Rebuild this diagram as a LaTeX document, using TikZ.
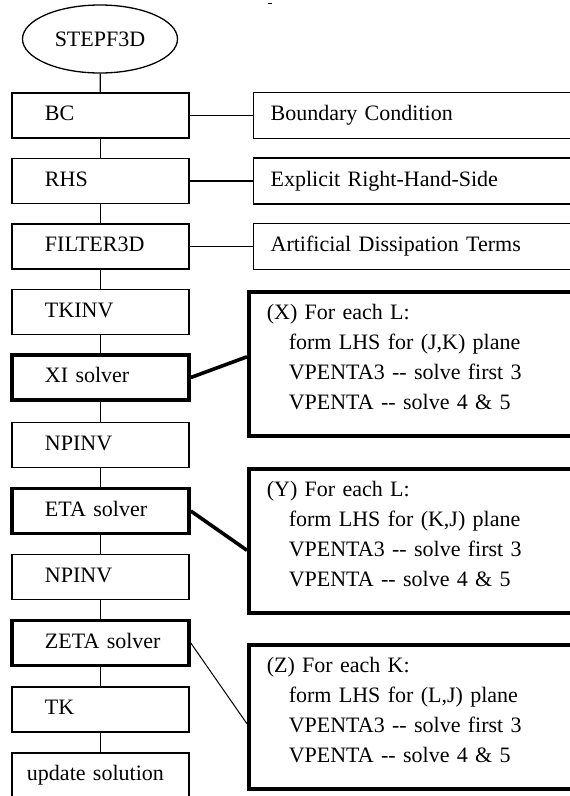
\documentclass[tikz,border=0pt]{standalone}
\usepackage{fontspec}
\setmainfont{Liberation Serif}
\usetikzlibrary{shapes.geometric}
\newcommand{\dd}{-{}-}
\newcommand{\ind}{\hspace*{22pt}}
\begin{document}
\begin{tikzpicture}[x=1pt,y=-1pt,
  thinline/.style={line width=1.3pt},
  thickline/.style={line width=3.6pt},
  stepbox/.style={draw, thinline, rectangle, minimum width=177pt, minimum height=45pt,
    inner xsep=33pt, text width=111pt, align=left, text height=15pt, text depth=5pt,
    font=\fontsize{22}{26}\selectfont},
  solverbox/.style={stepbox, thickline},
  notebox/.style={draw, thinline, rectangle, anchor=west, minimum width=347pt, minimum height=46pt,
    inner xsep=17pt, text width=313pt, align=left, text height=15pt, text depth=5pt,
    font=\fontsize{22}{26}\selectfont},
  loopbox/.style={draw, thickline, rectangle, anchor=north west, minimum width=353pt, minimum height=144pt,
    inner xsep=18pt, text width=317pt, align=left,
    font=\fontsize{22}{30}\selectfont}
]
\useasboundingbox (0,0) rectangle (570,796);

% stray mark at top
\draw[line width=1pt] (268,3.5) -- (272,3.5);

\node[draw, thinline, ellipse, minimum width=155pt, minimum height=68pt, inner sep=0pt,
  font=\fontsize{22}{26}\selectfont] (start) at (100,39) {STEPF3D};

\node[stepbox] (bc) at (100.5,115.5) {BC};
\node[stepbox] (rhs) at (100.5,181) {RHS};
\node[stepbox] (filt) at (100.5,246.5) {FILTER3D};
\node[stepbox] (tkinv) at (100.5,312) {TKINV};
\node[solverbox] (xi) at (100.5,377.5) {\mbox{XI solver}};
\node[stepbox] (np1) at (100.5,445) {NPINV};
\node[solverbox] (eta) at (100.5,511) {\mbox{ETA solver}};
\node[stepbox] (np2) at (100.5,577) {NPINV};
\node[solverbox] (zeta) at (100.5,643) {\mbox{ZETA solver}};
\node[stepbox] (tk) at (100.5,709.5) {TK};
\node[stepbox, inner xsep=15pt, text width=147pt] (upd) at (100.5,775.5) {\mbox{update solution}};

\node[notebox] (bcn) at (253,115.5) {Boundary Condition};
\node[notebox] (rhsn) at (253,181) {Explicit Right-Hand-Side};
\node[notebox] (filtn) at (253,246.5) {Artificial Dissipation Terms};

\node[loopbox] (xbox) at (247,290) {(X) For each L:\\\ind form LHS for (J,K) plane\\\ind VPENTA3 \dd{} solve first 3\\\ind VPENTA \dd{} solve 4 \& 5\rule[-14pt]{0pt}{0pt}};
\node[loopbox] (ybox) at (247,467) {(Y) For each L:\\\ind form LHS for (K,J) plane\\\ind VPENTA3 \dd{} solve first 3\\\ind VPENTA \dd{} solve 4 \& 5\rule[-14pt]{0pt}{0pt}};
\node[loopbox] (zbox) at (247,643) {(Z) For each K:\\\ind form LHS for (L,J) plane\\\ind VPENTA3 \dd{} solve first 3\\\ind VPENTA \dd{} solve 4 \& 5\rule[-14pt]{0pt}{0pt}};

% vertical chain
\draw[thinline] (start) -- (bc);
\draw[thinline] (bc) -- (rhs);
\draw[thinline] (rhs) -- (filt);
\draw[thinline] (filt) -- (tkinv);
\draw[thinline] (tkinv) -- (xi);
\draw[thinline] (xi) -- (np1);
\draw[thinline] (np1) -- (eta);
\draw[thinline] (eta) -- (np2);
\draw[thinline] (np2) -- (zeta);
\draw[thinline] (zeta) -- (tk);
\draw[thinline] (tk) -- (upd);

% side connectors
\draw[thinline] (bc) -- (bcn);
\draw[thinline] (rhs) -- (rhsn);
\draw[thinline] (filt) -- (filtn);
\draw[thickline] (xi.east) -- ([yshift=7pt]xbox.west);
\draw[thickline] (eta.east) -- ([yshift=-9.5pt]ybox.west);
\draw[line width=1pt] (zeta.east) -- ([yshift=-7pt]zbox.west);
\end{tikzpicture}
\end{document}
